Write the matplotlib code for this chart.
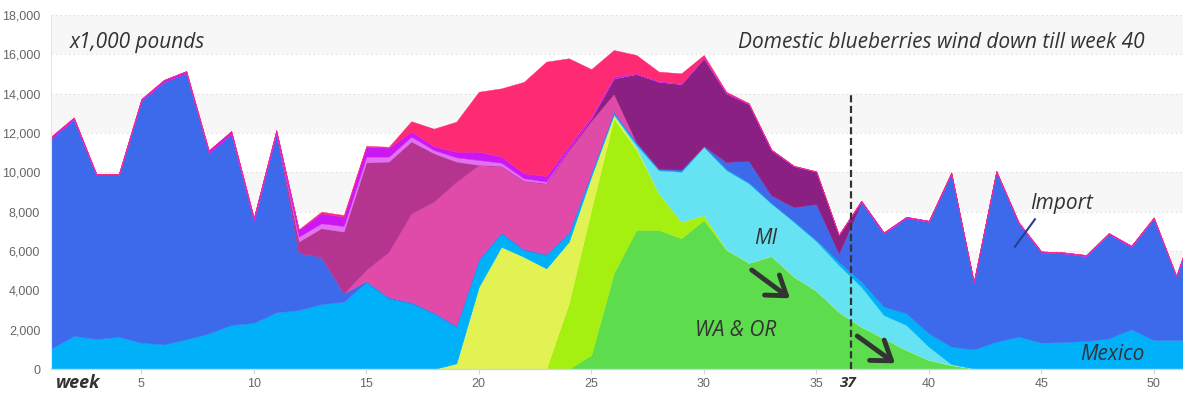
import matplotlib
matplotlib.use("Agg")
import matplotlib.pyplot as plt
import numpy as np

weeks = list(range(1, 53))

wa_or = [0]*23 + [0, 710, 4865, 7070, 7070, 6645, 7575, 6050, 5400, 5745, 4695, 3980,
                  2900, 2150, 1560, 965, 460, 200, 30] + [0]*10
lime = [0]*22 + [0, 3340, 7390, 7885, 4080, 1865, 845, 255, 30] + [0]*21
yellow = [0]*17 + [0, 290, 4185, 6220, 5710, 5120, 3135, 1700, 165, 100] + [0]*25
mi = [0]*25 + [30, 150, 1165, 2540, 3470, 4040, 4040, 2680, 2795, 2520, 2390, 2035,
               1185, 1275, 675, 50] + [0]*11
mexico = [1050, 1690, 1525, 1640, 1340, 1250, 1510, 1810, 2240, 2350,
          2880, 3000, 3300, 3420, 4420, 3595, 3340, 2830, 1860, 1355,
          680, 340, 680, 425, 150, 100, 80, 50, 50, 30,
          50, 50, 25, 30, 60, 165, 255, 425, 590, 680,
          885, 970, 1390, 1645, 1340, 1375, 1425, 1560, 2020, 1475,
          1475, 1475]
imports = [10680, 11020, 8325, 8210, 12310, 13350, 13540, 9190, 9710, 5200,
           9120, 2915, 2410, 430, 50, 55, 60, 50, 50, 60,
           50, 50, 50, 50, 50, 35, 80, 50, 70, 30,
           370, 1110, 400, 730, 1840, 445, 4070, 3730, 4860, 5675,
           8815, 3400, 8640, 5765, 4590, 4505, 4320, 5305, 4200, 6185,
           3220, 6525]
pink = [0]*13 + [0, 580, 2315, 4515, 5630, 7325, 4775, 3370, 3470, 3590, 4200, 2650, 935] + [0]*26
magenta = [0]*11 + [560, 1440, 3130, 5450, 4575, 3645, 2455, 1015] + [0]*33
purple = [0]*23 + [50, 100, 765, 3440, 4410, 4340, 4440, 3480, 2870, 2285, 2065, 1630, 915] + [0]*16
lilac = [0]*11 + [255, 260, 290, 300, 260, 255, 170, 225, 255, 170, 130, 90] + [0]*29
violet = [100, 80, 80, 80, 80, 100, 100, 120, 150, 150, 150,
          340, 510, 475, 500, 450, 255, 205, 285, 420, 310, 250, 285, 150, 100,
          90, 30, 40, 40, 40, 30, 30, 25, 20, 20, 15] + [50]*16
red = [0]*11 + [30, 80, 85, 50, 50, 530, 880, 1525, 3050, 3470, 4650, 5815, 4450,
                2400, 1350, 940, 470, 505, 130, 50, 20] + [0]*20

layers = [wa_or, lime, yellow, mi, mexico, imports, pink, magenta, purple, lilac, violet, red]
colors = ["#5ddc4e", "#a5f011", "#e2f252", "#65e3f2", "#00b0f8", "#3d69eb",
          "#e04aa8", "#b5348f", "#8a2081", "#e370ee", "#cc17f5", "#ff2a74"]

y_ticks = list(range(0, 18001, 2000))
x_ticks = [5, 10, 15, 20, 25, 30, 35, 40, 45, 50]

W, H = 1183, 393
fig = plt.figure(figsize=(W/100, H/100), dpi=100)
ax = fig.add_axes([51.3/W, (H-369)/H, 1-51.3/W, 354/H])

ax.set_xlim(1, 51.3)
ax.set_ylim(0, 18000)

# alternating bands and dotted grid
for i in range(0, 9):
    lo = i*2000
    if i % 2 == 0:
        ax.axhspan(lo, lo+2000, color="#f7f7f7", zorder=0, lw=0)
for v in y_ticks[1:]:
    ax.axhline(v, color="#d8d8d8", lw=0.8, ls=(0, (1, 3)), zorder=0.5)

polys = ax.stackplot(weeks, *layers, colors=colors, zorder=2)
for p, c in zip(polys, colors):
    p.set_edgecolor(c)
    p.set_linewidth(0.3)

# spines / ticks
for s in ["top", "right"]:
    ax.spines[s].set_visible(False)
ax.spines["left"].set_color("#e6e6e6")
ax.spines["left"].set_linewidth(0.8)
ax.spines["bottom"].set_color("#ccd6eb")
ax.spines["bottom"].set_linewidth(1.0)
ax.spines["bottom"].set_zorder(5)

ax.set_yticks(y_ticks)
ax.set_yticklabels([f"{v:,}" for v in y_ticks])
ax.set_xticks(x_ticks)
ax.set_xticklabels([str(v) for v in x_ticks])
ax.tick_params(axis="y", length=0, pad=8, labelsize=9, labelcolor="#666666")
ax.tick_params(axis="x", length=3.5, width=0.8, color="#ccd6eb", pad=3,
               labelsize=9, labelcolor="#666666")
for lab in ax.get_xticklabels() + ax.get_yticklabels():
    lab.set_family("Liberation Sans")

# annotations
hand = dict(family="Open Sans", style="italic", color="#333333")
ax.axvline(36.53, ymin=0, ymax=13930/18000, color="#333333", lw=1.6,
           ls=(0, (3.2, 1.6)), zorder=6)
ax.text(4.83, 16600, "x1,000 pounds", ha="center", va="center", fontsize=15, **hand)
ax.text(40.57, 16600, "Domestic blueberries wind down till week 40", ha="center",
        va="center", fontsize=15, **hand)
ax.text(32.76, 6636, "MI", ha="center", va="center", fontsize=15, **hand)
ax.text(31.43, 1983, "WA & OR", ha="center", va="center", fontsize=15, **hand)
ax.text(48.14, 760, "Mexico", ha="center", va="center", fontsize=15, **hand)
ax.text(45.88, 8440, "Import", ha="center", va="center", fontsize=15, **hand)
ax.plot([43.83, 44.72], [6219, 7612], color="#253f8f", lw=1.5, zorder=6)

arrow = dict(arrowstyle="->,head_length=0.65,head_width=0.45", lw=3.5,
             color="#333333", shrinkA=0, shrinkB=0, mutation_scale=20)
ax.annotate("", xy=(33.83, 3595), xytext=(32.13, 5034), arrowprops=arrow, zorder=7)
ax.annotate("", xy=(38.50, 290), xytext=(36.82, 1678), arrowprops=arrow, zorder=7)

fig.text(78.5/W, (H-383)/H, "week", ha="center", va="center", fontsize=13,
         fontweight="bold", **hand)
fig.text(848/W, (H-383)/H, "37", ha="center", va="center", fontsize=11,
         fontweight="bold", **hand)

fig.savefig("out.png", dpi=100)
